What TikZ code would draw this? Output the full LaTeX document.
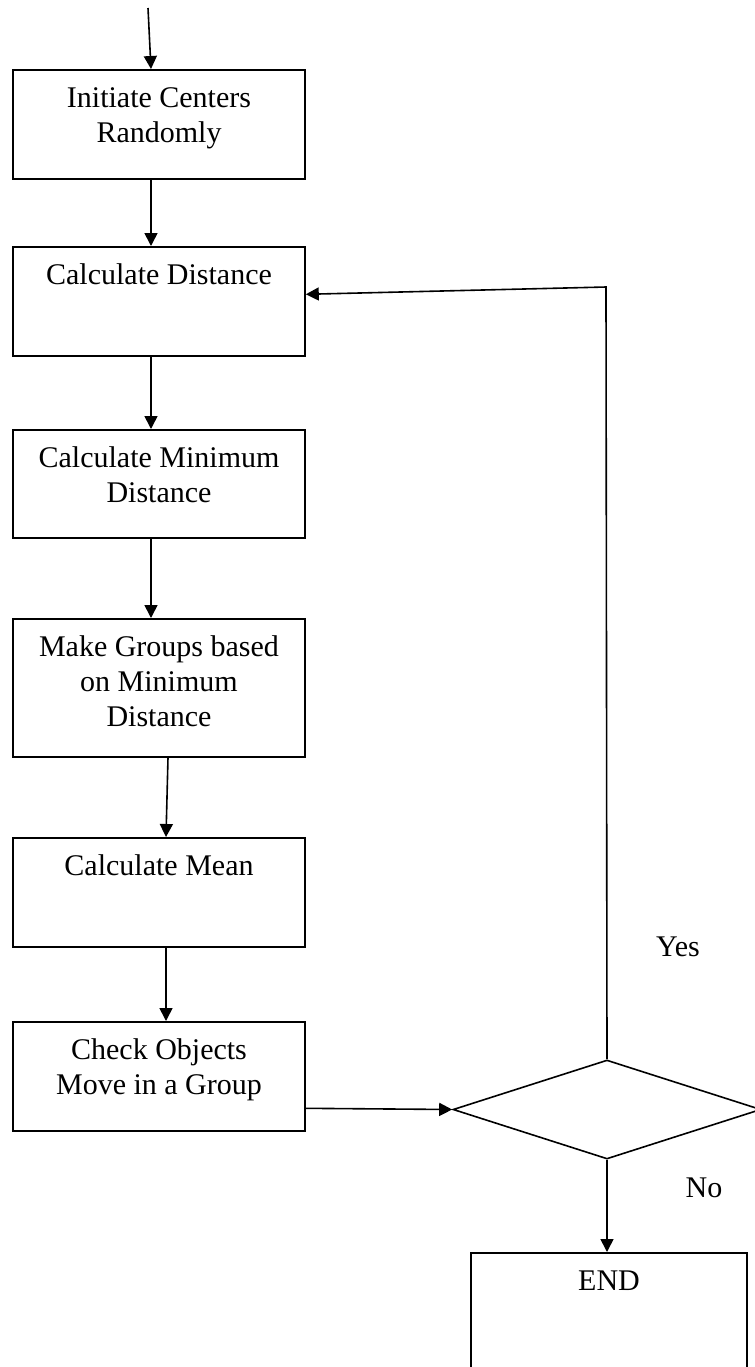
\documentclass[tikz,border=0pt]{standalone}
\usepackage{fontspec}
\setmainfont{Liberation Serif}
\usetikzlibrary{shapes.geometric,arrows.meta}

% box text set from the top: width, height, text
\newcommand{\boxtext}[3]{\parbox[c][#2][t]{#1}{\centering\rule{0pt}{19pt}#3}}

\begin{document}
\begin{tikzpicture}[x=0.5pt,y=-0.5pt,line width=0.8pt,
  >={Triangle[length=6.5pt,width=6.5pt]},
  every node/.style={font=\fontsize{15pt}{17.5pt}\selectfont},
  proc/.style={draw,rectangle,inner sep=0pt,anchor=north},
  decision/.style={draw,diamond,inner sep=0pt,minimum width=154pt,minimum height=49.5pt}]

\useasboundingbox (0,0) rectangle (755,1367);

\coordinate (start) at (148,8);
\coordinate (turn) at (606,287);

\node[proc] (init) at (159,69) {\boxtext{146pt}{54.5pt}{Initiate Centers\\Randomly}};
\node[proc] (dist) at (159,246) {\boxtext{146pt}{54.5pt}{Calculate Distance}};
\node[proc] (mindist) at (159,429) {\boxtext{146pt}{54pt}{Calculate Minimum\\Distance}};
\node[proc] (group) at (159,618) {\boxtext{146pt}{69pt}{Make Groups based\\on Minimum\\Distance}};
\node[proc] (mean) at (159,837) {\boxtext{146pt}{54.5pt}{Calculate Mean}};
\node[proc] (check) at (159,1021) {\boxtext{146pt}{54.5pt}{Check Objects\\Move in a Group}};
\node[decision] (dec) at (607,1109.5) {};
\node[proc] (endbox) at (609,1252) {\boxtext{138pt}{60pt}{END}};

\node[anchor=base] (yes) at (678,956) {Yes};
\node[anchor=base] (no) at (704,1197) {No};

\draw[->] (start) -- ([xshift=-4pt]init.north);
\draw[->] ([xshift=-4pt]init.south) -- ([xshift=-4pt]dist.north);
\draw[->] ([xshift=-4pt]dist.south) -- ([xshift=-4pt]mindist.north);
\draw[->] ([xshift=-4pt]mindist.south) -- ([xshift=-4pt]group.north);
\draw[->] ([xshift=4.5pt]group.south) -- ([xshift=3.5pt]mean.north);
\draw[->] ([xshift=3.5pt]mean.south) -- ([xshift=3.5pt]check.north);
\draw[->] ([yshift=-16pt]check.east) -- (dec.west);
\draw[->] (dec.north) -- (turn) -- ([yshift=3.5pt]dist.east);
\draw[->] (dec.south) -- (dec.south |- endbox.north);

\end{tikzpicture}
\end{document}
